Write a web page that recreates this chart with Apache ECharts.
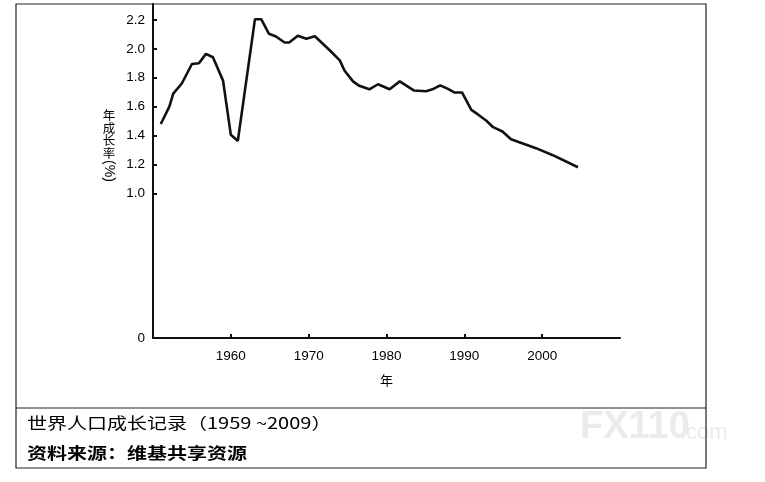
<!DOCTYPE html>
<html>
<head>
<meta charset="utf-8">
<style>
  html, body { margin: 0; padding: 0; background: #fff; }
  #main { width: 765px; height: 482px; }
</style>
<script src="https://cdn.jsdelivr.net/npm/echarts@6/dist/echarts.min.js"></script>
</head>
<body>
<div id="main"></div>
<script>
// 年份（读图所得）
const years = [1951.0, 1952.1, 1952.6, 1953.7, 1955.0, 1955.9, 1956.8, 1957.7, 1959.0, 1960.0,
  1960.9, 1963.1, 1963.9, 1964.9, 1965.8, 1966.9, 1967.5, 1968.6, 1969.7, 1970.8,
  1972.7, 1974.0, 1974.6, 1975.7, 1976.5, 1977.8, 1978.9, 1980.4, 1981.7, 1983.5,
  1985.1, 1985.9, 1986.9, 1987.9, 1988.7, 1989.7, 1990.9, 1991.7, 1992.8, 1993.7,
  1994.9, 1996.0, 1999.2, 2001.3, 2004.6];
// 年成长率 (%)
const rates = [1.48, 1.60, 1.69, 1.76, 1.895, 1.90, 1.965, 1.942, 1.78, 1.405,
  1.363, 2.205, 2.205, 2.104, 2.085, 2.044, 2.044, 2.09, 2.07, 2.087,
  1.99, 1.92, 1.85, 1.775, 1.744, 1.72, 1.755, 1.72, 1.775, 1.712,
  1.707, 1.72, 1.747, 1.723, 1.698, 1.698, 1.578, 1.548, 1.504, 1.458,
  1.428, 1.375, 1.313, 1.266, 1.181];
// 刻度
const xTicks = [1960, 1970, 1980, 1990, 2000];
const yTicks = [0, 1.0, 1.2, 1.4, 1.6, 1.8, 2.0, 2.2];

const title = '世界人口成长记录（1959 ~2009）';
const source = '资料来源：维基共享资源';

const chart = echarts.init(document.getElementById('main'), null, { renderer: 'canvas' });

const labelFont = { color: '#000', fontSize: 13.5, fontFamily: 'Liberation Sans, Arial, sans-serif' };

chart.setOption({
  backgroundColor: '#fff',
  animation: false,
  grid: { left: 153, right: 145, top: 4, bottom: 144, outerBoundsMode: 'none' },
  xAxis: {
    type: 'value',
    min: 1950,
    max: 2010,
    interval: 10,
    name: '年',
    nameLocation: 'middle',
    nameGap: 36,
    nameTextStyle: { color: '#000', fontSize: 13, fontFamily: 'Noto Sans CJK SC' },
    axisLine: { show: true, lineStyle: { color: '#111', width: 2 } },
    axisTick: { show: true, inside: true, length: 4, customValues: xTicks, lineStyle: { color: '#111', width: 2 } },
    axisLabel: { margin: 11, customValues: xTicks, formatter: v => String(v), ...labelFont },
    splitLine: { show: false }
  },
  yAxis: {
    type: 'value',
    min: 0,
    max: 2.31,
    axisLine: { show: true, lineStyle: { color: '#111', width: 2 } },
    axisTick: { show: true, inside: true, length: 4, customValues: yTicks, lineStyle: { color: '#111', width: 2 } },
    axisLabel: {
      margin: 8,
      customValues: yTicks,
      formatter: v => (v === 0 ? '0' : v.toFixed(1)),
      ...labelFont
    },
    splitLine: { show: false }
  },
  series: [{
    type: 'line',
    data: years.map((y, i) => [y, rates[i]]),
    symbol: 'none',
    lineStyle: { color: '#111', width: 2.6 },
    z: 5
  }],
  graphic: [
    // 外框
    { type: 'rect', shape: { x: 16, y: 4, width: 690, height: 464 },
      style: { fill: 'none', stroke: '#222', lineWidth: 1.2 }, silent: true },
    { type: 'line', shape: { x1: 16, y1: 408, x2: 706, y2: 408 },
      style: { stroke: '#222', lineWidth: 1.2 }, silent: true },
    // y轴名称（竖排）
    { type: 'text', x: 109, y: 109,
      style: { text: '年\n成\n长\n率', font: '12.5px "Noto Sans CJK SC"', fill: '#000',
        textAlign: 'center', textVerticalAlign: 'top', lineHeight: 12.5 } },
    { type: 'text', x: 109, y: 171, rotation: -Math.PI / 2,
      style: { text: '(%)', font: '14px "Liberation Sans"', fill: '#000',
        textAlign: 'center', textVerticalAlign: 'middle' } },
    // 水印
    { type: 'text', x: 580, y: 428,
      style: { text: 'FX110', font: 'bold 38px "Liberation Sans"', fill: '#ebebeb',
        textAlign: 'left', textVerticalAlign: 'middle' }, z: -1 },
    { type: 'text', x: 680, y: 433,
      style: { text: '.com', font: '22px "Liberation Sans"', fill: '#ebebeb',
        textAlign: 'left', textVerticalAlign: 'middle' }, z: -1 },
    // 标题与来源
    { type: 'text', x: 27, y: 423, scaleX: 1.25,
      style: { text: title, font: '16px "Noto Sans CJK SC"', fill: '#000',
        textAlign: 'left', textVerticalAlign: 'middle' } },
    { type: 'text', x: 27, y: 453, scaleX: 1.25,
      style: { text: source, font: 'bold 16px "Noto Sans CJK SC"', fill: '#000',
        textAlign: 'left', textVerticalAlign: 'middle' } }
  ]
});
</script>
</body>
</html>
